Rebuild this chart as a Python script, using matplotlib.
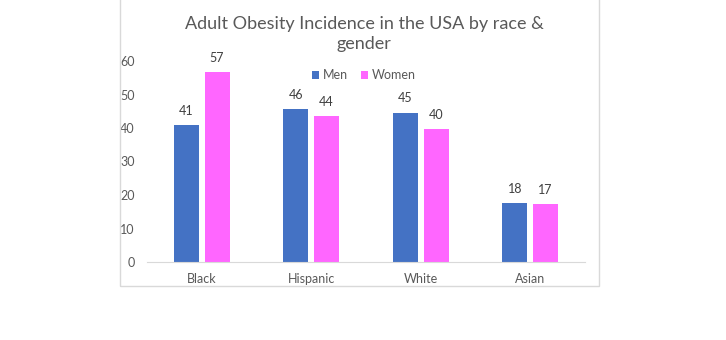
import numpy as np
import matplotlib.pyplot as plt
from matplotlib.patches import Rectangle

# Data
races = ['Black', 'Hispanic', 'White', 'Asian']
men = [40.9, 45.6, 44.6, 17.6]
women = [56.7, 43.6, 39.7, 17.3]
y_ticks = [0, 10, 20, 30, 40, 50, 60]

plt.rcParams['font.family'] = ['Lato', 'DejaVu Sans']

W, H = 726, 340
fig = plt.figure(figsize=(W / 100, H / 100), dpi=100)

# Chart area border
fig.patches.append(Rectangle((120 / W, 1 - 286 / H), 479 / W, 286 / H + 0.01,
                             transform=fig.transFigure, fill=False,
                             edgecolor='#d9d9d9', linewidth=1))

ax = fig.add_axes([147 / W, 1 - 262 / H, 438 / W, 201 / H])

x = np.arange(len(races))
bw = 0.228
off = 0.14
b1 = ax.bar(x - off, men, bw, color='#4472c4', label='Men')
b2 = ax.bar(x + off, women, bw, color='#ff66ff', label='Women')

for bars in (b1, b2):
    for b in bars:
        ax.text(b.get_x() + b.get_width() / 2, b.get_height() + 2.5,
                f'{b.get_height():.0f}', ha='center', va='bottom',
                fontsize=9, color='#404040')

ax.set_xlim(-0.5, len(races) - 0.5)
ax.set_ylim(0, 60)
ax.set_yticks(y_ticks)
ax.set_xticks(x)
ax.set_xticklabels(races)
ax.tick_params(length=0, labelsize=9, labelcolor='#595959')
ax.tick_params(axis='y', pad=9)
ax.tick_params(axis='x', pad=8)
for s in ['top', 'right', 'left']:
    ax.spines[s].set_visible(False)
ax.spines['bottom'].set_color('#d9d9d9')

fig.text(364 / W, 1 - 34 / H, 'Adult Obesity Incidence in the USA by race &\ngender',
         ha='center', va='center', fontsize=13, color='#595959', linespacing=1.35)

fig.legend(handles=[b1, b2], loc='center', bbox_to_anchor=(364 / W, 1 - 75 / H),
           ncol=2, frameon=False, fontsize=9, labelcolor='#595959',
           handlelength=0.6, handleheight=0.6, handletextpad=0.3, columnspacing=1.0)

fig.savefig('out.png', dpi=100)
